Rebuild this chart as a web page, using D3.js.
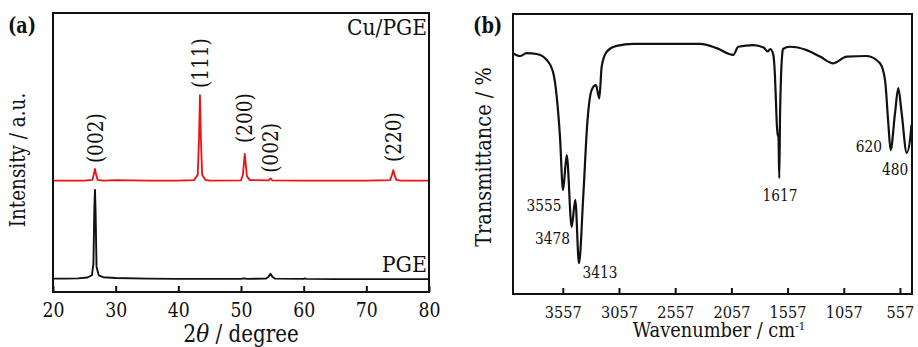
<!DOCTYPE html>
<html><head><meta charset="utf-8">
<script src="https://cdn.jsdelivr.net/npm/d3@7/dist/d3.min.js"></script>
<style>body{margin:0;background:#fff}svg{display:block}</style>
</head><body><svg id="c" width="918" height="347"></svg>
<script>
// ---------- Panel (a): XRD ----------
const xrdTicks = [20, 30, 40, 50, 60, 70, 80];
const pgeTheta = [20,22,24,25.5,26.2,26.45,26.6,26.7,26.8,26.95,27.3,28,30,35,40,45,50,50.5,51,54,54.4,54.7,55.0,55.4,60,60.2,60.4,65,70,75,80];
const pgeInt   = [4.8,4.8,4.9,5.2,6.0,10,30,36.6,28,9,6.0,5.3,5.0,4.8,4.7,4.7,4.7,4.9,4.7,4.8,5.5,6.5,5.5,4.8,4.7,4.9,4.7,4.6,4.6,4.6,4.6];
const cuTheta = [20,25,26.3,26.5,26.7,26.9,27.1,28,30,35,40,42.5,43.1,43.3,43.45,43.6,43.8,44.3,45,50,50.3,50.5,50.6,50.75,50.95,51.4,54.4,54.7,55.0,60,65,70,73.8,74.1,74.3,74.5,74.8,75.5,80];
const cuInt   = [39.9,39.9,40.2,42,44.1,42,40.2,39.9,40.1,39.9,39.9,40.1,42,55,70.6,55,42,40.2,39.9,40.0,42,47,49.5,46,41.5,40.1,40.0,40.7,40.0,39.9,39.9,39.9,40.1,42,43.7,42,40.2,39.9,39.9];
const peakLabels = ["(002)","(111)","(200)","(002)","(220)"];
const peakTheta  = [26.7, 43.45, 50.6, 54.7, 74.3];
const peakLabelInt = [46.2, 73.1, 53.4, 42.7, 46.6];

// ---------- Panel (b): FTIR ----------
const irTicks = [3557, 3057, 2557, 2057, 1557, 1057, 557];
const waveNum = [4000,3938,3878,3789,3700,3641,3611,3582,3555,3522,3478,3446,3413,3375,3339,3300,3262,3232,3211,3166,3077,2930,2336,2188,2040,1996,1862,1770,1735,1710,1684,1672,1662,1652,1645,1638,1631,1624,1616,1606,1598,1536,1387,1269,1150,1031,853,735,690,661,640,601,572,542,497,461,455];
const transm  = [86.0,85.0,86.0,85.7,83.6,78.8,70.5,56.2,37.1,49.6,24.0,33.6,11.0,34.8,61.0,72.9,74.6,69.9,81.2,86.5,88.6,89.3,89.3,87.8,85.4,88.3,88.9,88.0,86.6,87.5,85.4,80.0,70.5,60.0,57.0,56.0,41.4,64.0,77.0,85.0,87.5,88.3,87.1,84.8,82.4,84.8,85.0,82.4,76.4,61.1,51.4,64.6,73.5,64.6,50.4,57.5,60.4];
const irLabels = ["3555","3478","3413","1617","620","480"];
const irLabelWave = [3724, 3649, 3226, 1624, 833, 601];
const irLabelT = [29.6, 17.9, 5.7, 33.2, 50.7, 42.5];

const svg = d3.select("#c");

// ---- font handling: use a Times-metric serif if really installed, else squeeze DejaVu Serif to Times metrics ----
function pickSerif(){
  const cands = ["Liberation Serif","Times New Roman","Tinos","Nimbus Roman"];
  const probe = svg.append("text").attr("x",-1000).attr("y",-1000).attr("font-size",100).text("Intensity / a.u.");
  let found = null;
  for (const c of cands){
    probe.attr("font-family",`"${c}",monospace`);
    const w = probe.node().getComputedTextLength();
    if (Math.abs(w - 597) < 20){ found = c; break; }
  }
  probe.remove();
  return found;
}
const timesFound = pickSerif();
const serif = timesFound ? `"${timesFound}",serif` : `"DejaVu Serif",serif`;
svg.style("font-family", serif);
const TW = {"0":.5,"1":.5,"2":.5,"3":.5,"4":.5,"5":.5,"6":.5,"7":.5,"8":.5,"9":.5,"(":.333,")":.333,"/":.278," ":.25,".":.25,"%":.833,"-":.333,"θ":.5,
  a:.444,b:.5,c:.444,d:.5,e:.444,g:.5,i:.278,m:.778,n:.5,r:.333,s:.389,t:.278,u:.5,v:.5,y:.5,
  C:.667,E:.611,G:.722,I:.333,P:.556,T:.611,W:.944};
const TWB = {"(":.333,")":.333,a:.5,b:.556};
function fit(sel, size, str, bold){
  if (timesFound){ sel.attr("font-size", size); return sel; }
  const tbl = bold ? TWB : TW;
  let w = 0; for (const ch of str) w += (tbl[ch] ?? TW[ch] ?? .5);
  sel.attr("font-size", size*0.93).attr("textLength", (w*size).toFixed(1)).attr("lengthAdjust","spacingAndGlyphs");
  return sel;
}
function txt(g, str, size, bold){
  const t = g.append("text").attr("fill","#111").text(str);
  if (bold) t.attr("font-weight","bold");
  return fit(t, size, str, bold);
}

// ===== Panel a =====
const A = {l:53, r:429, t:13, b:292};
const xa = d3.scaleLinear().domain([20,80]).range([A.l, A.r]);
const ya = d3.scaleLinear().domain([0,100]).range([A.b, A.t]);
const ga = svg.append("g");
const lineA = d3.line().x(d=>xa(d[0])).y(d=>ya(d[1]));
ga.append("path").datum(d3.zip(pgeTheta,pgeInt)).attr("d",lineA)
  .attr("fill","none").attr("stroke","#111").attr("stroke-width",1.9).attr("stroke-linejoin","round");
ga.append("path").datum(d3.zip(cuTheta,cuInt)).attr("d",lineA)
  .attr("fill","none").attr("stroke","#ee1111").attr("stroke-width",1.8).attr("stroke-linejoin","round");
ga.append("rect").attr("x",A.l).attr("y",A.t).attr("width",A.r-A.l).attr("height",A.b-A.t)
  .attr("fill","none").attr("stroke","#111").attr("stroke-width",2);
const axA = ga.append("g").attr("transform",`translate(0,${A.b})`)
  .call(d3.axisBottom(xa).tickValues(xrdTicks).tickSize(-6).tickFormat(d3.format("d")));
axA.select(".domain").remove();
axA.attr("font-family",null);
axA.selectAll("line").attr("stroke","#111").attr("stroke-width",2);
axA.selectAll("text").attr("fill","#111").attr("dy",null).attr("y",25)
  .each(function(d){ fit(d3.select(this), 22, String(d)); });
peakLabels.forEach((t,i)=>{
  txt(ga, t, 23).attr("transform",`translate(${xa(peakTheta[i])},${ya(peakLabelInt[i])}) rotate(-90)`).attr("dy","0.36em");
});
txt(ga, "Cu/PGE", 24).attr("x",427).attr("y",35).attr("text-anchor","end");
txt(ga, "PGE", 24).attr("x",427).attr("y",272).attr("text-anchor","end");
txt(ga, "(a)", 24, true).attr("x",8).attr("y",33);
txt(ga, "Intensity / a.u.", 23.5).attr("transform","translate(25,160) rotate(-90)").attr("text-anchor","middle");
const ta = ga.append("text").attr("x",(A.l+A.r)/2).attr("y",342).attr("text-anchor","middle").attr("fill","#111");
fit(ta.append("tspan").text("2"), 26, "2");
fit(ta.append("tspan").attr("font-style","italic").text("θ"), 26, "θ");
fit(ta.append("tspan").text(" / degree"), 26, " / degree");

// ===== Panel b =====
const B = {l:513, r:912, t:14, b:294};
const xb = d3.scaleLinear().domain([4000,450]).range([B.l, B.r]);
const yb = d3.scaleLinear().domain([0,100]).range([B.b, B.t]);
const gb = svg.append("g");
gb.append("path").datum(d3.zip(waveNum,transm))
  .attr("d",d3.line().x(d=>xb(d[0])).y(d=>yb(d[1])).curve(d3.curveMonotoneX))
  .attr("fill","none").attr("stroke","#111").attr("stroke-width",2.2).attr("stroke-linejoin","round");
gb.append("rect").attr("x",B.l).attr("y",B.t).attr("width",B.r-B.l).attr("height",B.b-B.t)
  .attr("fill","none").attr("stroke","#111").attr("stroke-width",2);
const axB = gb.append("g").attr("transform",`translate(0,${B.b})`)
  .call(d3.axisBottom(xb).tickValues(irTicks).tickSize(-6).tickFormat(d3.format("d")));
axB.select(".domain").remove();
axB.attr("font-family",null);
axB.selectAll("line").attr("stroke","#111").attr("stroke-width",2);
axB.selectAll("text").attr("fill","#111").attr("dy",null).attr("y",24)
  .each(function(d){ fit(d3.select(this), 18.5, String(d)); });
irLabels.forEach((t,i)=>{
  txt(gb, t, 17.5).attr("x",xb(irLabelWave[i])).attr("y",yb(irLabelT[i])).attr("text-anchor","middle");
});
txt(gb, "(b)", 24, true).attr("x",473).attr("y",33);
txt(gb, "Transmittance / %", 24.5).attr("transform","translate(491,157) rotate(-90)").attr("text-anchor","middle");
const tb = gb.append("text").attr("x",719).attr("y",337).attr("text-anchor","middle").attr("fill","#111");
fit(tb.append("tspan").text("Wavenumber / cm"), 22, "Wavenumber / cm");
fit(tb.append("tspan").attr("dy",-7).text("-1"), 12, "-1");
</script></body></html>
